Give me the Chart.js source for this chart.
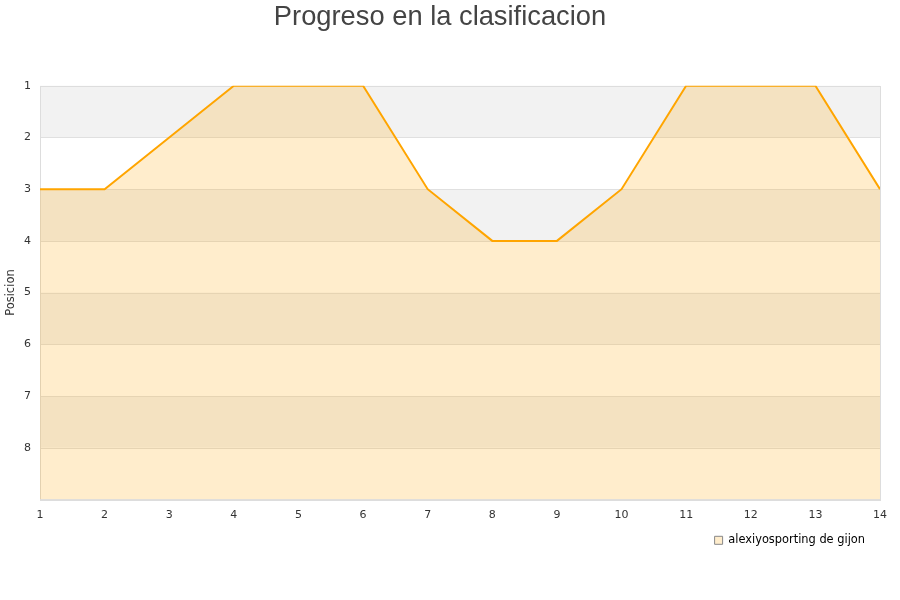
<!DOCTYPE html>
<html>
<head>
<meta charset="utf-8">
<script src="https://cdn.jsdelivr.net/npm/chart.js@4.4.0/dist/chart.umd.min.js"></script>
<style>
    html, body { margin: 0; padding: 0; background: #fff; }
    #wrap { width: 900px; height: 600px; }
</style>
</head>
<body>
<div id="wrap"><canvas id="line-chart" width="900" height="600"></canvas></div>
<script>
"use strict";

var jornadas = [1, 2, 3, 4, 5, 6, 7, 8, 9, 10, 11, 12, 13, 14];
var posiciones = [3, 3, 2, 1, 1, 1, 3, 4, 4, 3, 1, 1, 1, 3];
var equipo = "alexiyosporting de gijon";
var titulo = "Progreso en la clasificacion";

// alternating grey/white bands behind the plot + outer frame
var bandas = {
    id: 'bandas',
    afterLayout: function (chart) {
        // nudge the legend a little up/left
        var lg = chart.legend;
        lg.left -= 5; lg.right -= 5;
        lg.top -= 7; lg.bottom -= 7;
    },
    beforeDatasetsDraw: function (chart) {
        var ctx = chart.ctx, a = chart.chartArea, y = chart.scales.y;
        ctx.save();
        for (var v = y.min; v < y.max; v++) {
            if ((v - y.min) % 2 === 0) {
                var p1 = y.getPixelForValue(v), p2 = y.getPixelForValue(v + 1);
                ctx.fillStyle = '#f2f2f2';
                ctx.fillRect(a.left, Math.min(p1, p2), a.right - a.left, Math.abs(p2 - p1));
            }
        }
        // horizontal lines on top of the bands
        ctx.strokeStyle = '#e0e0e0';
        ctx.lineWidth = 1;
        for (var w = y.min; w <= y.max; w++) {
            var py = Math.round(y.getPixelForValue(w)) + 0.5;
            ctx.beginPath();
            ctx.moveTo(a.left, py);
            ctx.lineTo(a.right, py);
            ctx.stroke();
        }
        ctx.strokeStyle = '#dddddd';
        ctx.strokeRect(Math.round(a.left) + 0.5, Math.round(a.top) + 0.5, Math.round(a.right - a.left), Math.round(a.bottom - a.top));
        ctx.restore();
    }
};

var chartData = {
    labels: jornadas,
    datasets: [{
        label: equipo,
        data: posiciones,
        borderColor: '#ffa500',
        backgroundColor: 'rgba(255, 165, 0, 0.2)',
        borderWidth: 2,
        pointRadius: 0,
        tension: 0,
        fill: { value: 9 }
    }]
};

new Chart(document.getElementById('line-chart'), {
    type: 'line',
    data: chartData,
    plugins: [bandas],
    options: {
        responsive: false,
        animation: false,
        layout: { padding: { left: 0, right: 20, top: 0, bottom: 37 } },
        plugins: {
            title: {
                display: true,
                text: titulo,
                color: '#444444',
                font: { family: 'Liberation Sans', size: 27.3, weight: 'normal' },
                padding: { top: 1, bottom: 52 }
            },
            legend: {
                position: 'bottom',
                align: 'end',
                labels: {
                    color: '#000000',
                    font: { family: 'DejaVu Sans', size: 11.4 },
                    boxWidth: 8,
                    boxHeight: 8,
                    padding: 10,
                    generateLabels: function (chart) {
                        return [{
                            text: equipo,
                            fillStyle: 'rgba(255, 165, 0, 0.2)',
                            strokeStyle: '#888888',
                            lineWidth: 1,
                            datasetIndex: 0
                        }];
                    }
                }
            },
            tooltip: { enabled: false }
        },
        scales: {
            x: {
                type: 'linear',
                min: 1,
                max: 14,
                grid: { display: false, drawTicks: false },
                border: { display: false },
                ticks: {
                    stepSize: 1,
                    color: '#333333',
                    font: { family: 'DejaVu Sans', size: 11 },
                    padding: 9.5,
                    maxRotation: 0
                }
            },
            y: {
                reverse: true,
                min: 1,
                max: 9,
                afterFit: function (scale) { scale.width = 40; },
                grid: { display: false, drawTicks: false },
                border: { display: false },
                title: {
                    display: true,
                    text: 'Posicion',
                    color: '#333333',
                    font: { family: 'DejaVu Sans', size: 11.5 },
                    padding: { top: 4, bottom: 0 }
                },
                ticks: {
                    stepSize: 1,
                    color: '#333333',
                    font: { family: 'DejaVu Sans', size: 11 },
                    padding: 9,
                    callback: function (v) { return v < 9 ? v : ''; }
                }
            }
        }
    }
});
</script>
</body>
</html>
